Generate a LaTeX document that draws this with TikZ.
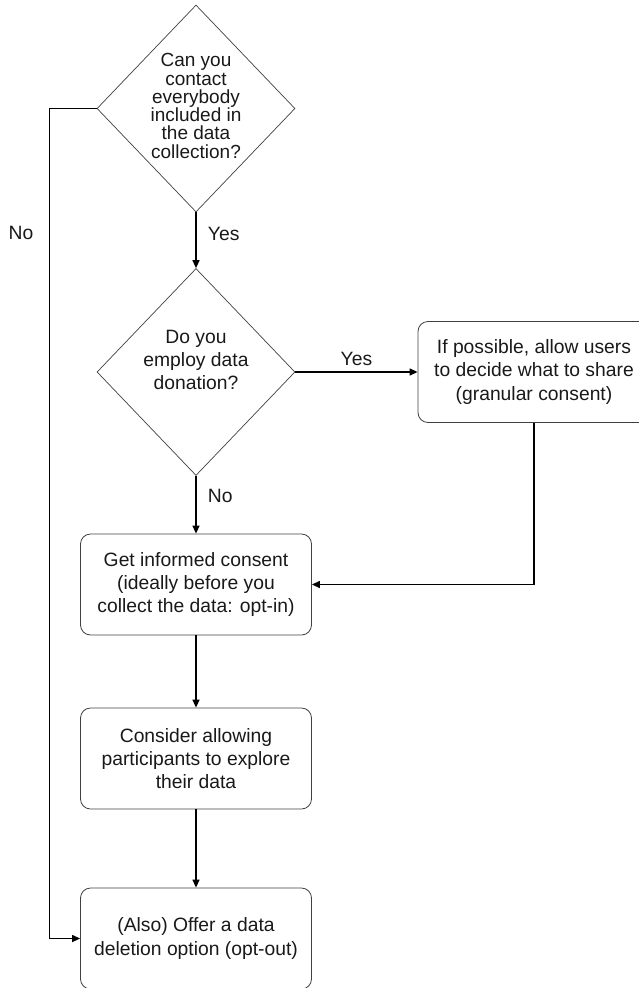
\documentclass[tikz,border=0pt]{standalone}
\usepackage{fontspec}
\setmainfont{Liberation Sans}
\usetikzlibrary{arrows.meta, positioning, calc, shapes.geometric}
\definecolor{LineGray}{rgb}{0.25, 0.25, 0.25}
\definecolor{InkBlack}{rgb}{0.1, 0.1, 0.1}
\tikzset{
    pregunta/.style={draw=LineGray, line width=0.7pt, shape=diamond, inner sep=0pt,
                     minimum width=198pt, minimum height=207pt},
    caja/.style={draw=LineGray, line width=0.8pt, rounded corners=10pt, align=center,
                 minimum width=231pt, minimum height=101pt, text=InkBlack,
                 font=\fontsize{19.3}{23.3}\selectfont},
    etiqueta/.style={text=InkBlack, font=\fontsize{19.3}{23.3}\selectfont},
    flecha/.style={line width=1.3pt, -{Triangle[length=8pt, width=7pt]}}
}

\begin{document}
\begin{tikzpicture}[x=1pt, y=-1pt]
\useasboundingbox (0,0) rectangle (639,988);

% preguntas
\node[pregunta, label={[etiqueta, align=center, font=\fontsize{19}{18.3}\selectfont, yshift=2.5pt]center:{Can you\\contact\\everybody\\included in\\the data\\collection?}}] (contacto) at (196,108.5) {};
\node[pregunta, label={[etiqueta, align=center, yshift=12pt]center:{Do you\\employ data\\donation?}}] (donacion) at (196,372) {};

% pasos
\node[caja, minimum width=232pt] (granular) at (534,372) {If possible, allow users\\to decide what to share\\(granular consent)};
\node[caja] (consentimiento) at (196,584.5) {Get informed consent\\(ideally before you\\collect the data: opt-in)};
\node[caja] (explorar) at (196,758.5) {Consider allowing\\participants to explore\\their data};
\node[caja] (borrado) at (196,938.5) {(Also) Offer a data\\deletion option (opt-out)};

% conectores
\draw[flecha] (contacto.south) -- (donacion.north)
    node[etiqueta, pos=0.38, right=8pt] (si1) {Yes};
\draw[flecha] (contacto.west) -- ++(-47,0) |- (borrado.west);
\node[etiqueta] (no1) at (21,233) {No};
\draw[flecha] (donacion.east) -- (granular.west)
    node[etiqueta, midway, above=2pt] (si2) {Yes};
\draw[flecha] (donacion.south) -- (consentimiento.north)
    node[etiqueta, pos=0.35, right=8pt] (no2) {No};
\draw[flecha] (granular.south) |- (consentimiento.east);
\draw[flecha] (consentimiento.south) -- (explorar.north);
\draw[flecha] (explorar.south) -- (borrado.north);

\end{tikzpicture}
\end{document}
